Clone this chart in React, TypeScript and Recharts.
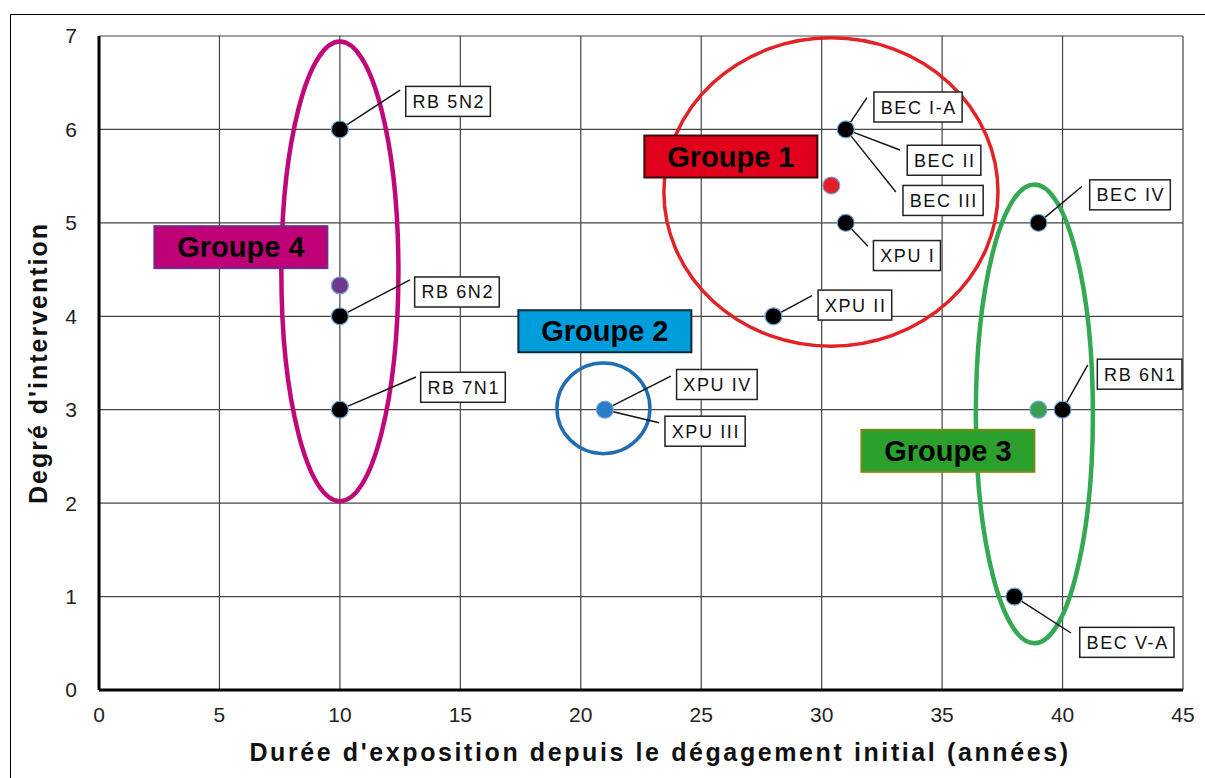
import { ScatterChart, Scatter, XAxis, YAxis, CartesianGrid, ReferenceArea, ReferenceLine, ReferenceDot, Cell } from "recharts";

const xTicks = [0, 5, 10, 15, 20, 25, 30, 35, 40, 45];
const yTicks = [0, 1, 2, 3, 4, 5, 6, 7];

// échantillons (points noirs)
const samples = [
    { x: 10, y: 6 },
    { x: 10, y: 4 },
    { x: 10, y: 3 },
    { x: 31, y: 6 },
    { x: 31, y: 5 },
    { x: 28, y: 4 },
    { x: 39, y: 5 },
    { x: 40, y: 3 },
    { x: 38, y: 1 },
];

// centres des groupes
const centroids = [
    { group: "Groupe 4", x: 10, y: 4.33 },
    { group: "Groupe 2", x: 21, y: 3 },
    { group: "Groupe 1", x: 30.4, y: 5.4 },
    { group: "Groupe 3", x: 39, y: 3 },
];

// étiquettes des échantillons : point -> coin de l'étiquette -> centre de l'étiquette
const sampleLabels = [
    { text: "RB 5N2", px: 10, py: 6, ax: 12.5, ay: 6.42, lx: 14.49, ly: 6.3 },
    { text: "RB 6N2", px: 10, py: 4, ax: 12.91, ay: 4.39, lx: 14.86, ly: 4.26 },
    { text: "RB 7N1", px: 10, py: 3, ax: 13.16, ay: 3.35, lx: 15.11, ly: 3.24 },
    { text: "BEC I-A", px: 31, py: 6, ax: 31.88, ay: 6.34, lx: 34.0, ly: 6.24 },
    { text: "BEC II", px: 31, py: 6, ax: 33.25, ay: 5.78, lx: 35.08, ly: 5.67 },
    { text: "BEC III", px: 31, py: 6, ax: 33.08, ay: 5.33, lx: 35.04, ly: 5.24 },
    { text: "XPU I", px: 31, py: 5, ax: 31.92, ay: 4.75, lx: 33.54, ly: 4.65 },
    { text: "XPU II", px: 28, py: 4, ax: 29.6, ay: 4.22, lx: 31.38, ly: 4.12 },
    { text: "XPU IV", px: 21, py: 3, ax: 23.74, ay: 3.36, lx: 25.65, ly: 3.27 },
    { text: "XPU III", px: 21, py: 3, ax: 23.25, ay: 2.86, lx: 25.16, ly: 2.77 },
    { text: "BEC IV", px: 39, py: 5, ax: 40.8, ay: 5.39, lx: 42.8, ly: 5.3 },
    { text: "RB 6N1", px: 40, py: 3, ax: 41.05, ay: 3.48, lx: 43.2, ly: 3.38 },
    { text: "BEC V-A", px: 38, py: 1, ax: 40.35, ay: 0.61, lx: 42.67, ly: 0.51 },
];

// contours des groupes (boîte englobante de l'ellipse)
const groupShapes = [
    { group: "Groupe 4", x1: 7.57, x2: 12.43, y1: 2.02, y2: 6.94 },
    { group: "Groupe 1", x1: 23.45, x2: 37.32, y1: 3.68, y2: 6.98 },
    { group: "Groupe 2", x1: 19.01, x2: 22.87, y1: 2.53, y2: 3.5 },
    { group: "Groupe 3", x1: 36.4, x2: 41.26, y1: 0.5, y2: 5.41 },
];

const groupTags = [
    { group: "Groupe 1", x: 26.23, y: 5.71 },
    { group: "Groupe 2", x: 21.0, y: 3.84 },
    { group: "Groupe 3", x: 35.24, y: 2.56 },
    { group: "Groupe 4", x: 5.89, y: 4.74 },
];

const ringColor: Record<string, string> = {
    "Groupe 1": "#e32228",
    "Groupe 2": "#1f6db3",
    "Groupe 3": "#35a853",
    "Groupe 4": "#c0087a",
};
const dotColor: Record<string, string> = {
    "Groupe 1": "#e3202a",
    "Groupe 2": "#2a7cc4",
    "Groupe 3": "#3a9e55",
    "Groupe 4": "#6d3a8e",
};
const tagFill: Record<string, string> = {
    "Groupe 1": "#e0001b",
    "Groupe 2": "#009ddd",
    "Groupe 3": "#2ca02c",
    "Groupe 4": "#bf0077",
};
const tagBorder: Record<string, string> = {
    "Groupe 1": "#3a0a0a",
    "Groupe 2": "#0a2a3a",
    "Groupe 3": "#7a8a1a",
    "Groupe 4": "#6a3090",
};

const FONT = "'Liberation Sans', Arial, sans-serif";
const LABEL_SIZE = 18;
const LABEL_SPACING = 1.6;

let ctx: CanvasRenderingContext2D | null = null;
const measure = (text: string, font: string, spacing: number) => {
    if (!ctx) ctx = document.createElement("canvas").getContext("2d");
    if (!ctx) return text.length * 10;
    ctx.font = font;
    return ctx.measureText(text).width + spacing * text.length;
};

const LabelBox = (props: any) => {
    const { cx, cy, text } = props;
    const w = measure(text, `${LABEL_SIZE}px ${FONT}`, LABEL_SPACING) + 12;
    const h = 30;
    return (
        <g>
            <rect x={cx - w / 2} y={cy - h / 2} width={w} height={h} fill="#fff" stroke="#222" strokeWidth={1.5} />
            <text x={cx + LABEL_SPACING / 2} y={cy + 6.5} textAnchor="middle" fontSize={LABEL_SIZE} fontFamily={FONT}
                letterSpacing={LABEL_SPACING} fill="#111">{text}</text>
        </g>
    );
};

const GroupTag = (props: any) => {
    const { cx, cy, group } = props;
    const w = 173, h = 42;
    return (
        <g>
            <rect x={cx - w / 2} y={cy - h / 2} width={w} height={h} fill={tagFill[group]} stroke={tagBorder[group]} strokeWidth={2} />
            <text x={cx} y={cy + 10} textAnchor="middle" fontSize={29} fontWeight="bold" fontFamily={FONT} fill="#000">{group}</text>
        </g>
    );
};

const Ring = (props: any) => {
    const { x, y, width, height, group } = props;
    return (
        <ellipse cx={x + width / 2} cy={y + height / 2} rx={width / 2} ry={height / 2}
            fill="none" stroke={ringColor[group]} strokeWidth={group === "Groupe 1" || group === "Groupe 2" ? 3.5 : 4.5} />
    );
};

const Dot = (props: any) => (
    <circle cx={props.cx} cy={props.cy} r={8.5} fill={props.fill} stroke="#6fa8dc" strokeWidth={1.2} />
);

export default function App() {
    const tick = { fill: "#222", fontSize: 21, fontFamily: FONT };
    return (
        <div style={{ position: "absolute", left: 0, top: 0, width: 1205, height: 778, overflow: "hidden", background: "#fff" }}>
            <div style={{ position: "absolute", left: 10, top: 14, width: 1220, height: 800, border: "1.5px solid #000" }} />
            <div style={{ position: "absolute", left: 0, top: 0 }}>
                <ScatterChart width={1205} height={778} margin={{ top: 36, right: 22, bottom: 0, left: 0 }}>
                    <CartesianGrid stroke="#444" strokeWidth={1.2} horizontalValues={yTicks} verticalValues={xTicks} />
                    <XAxis type="number" dataKey="x" domain={[0, 45]} ticks={xTicks} height={88} tickLine={false}
                        tickSize={0} tickMargin={17} stroke="#000" strokeWidth={3} tick={tick}
                        label={{ value: "Durée d'exposition depuis le dégagement initial (années)", position: "insideBottom", offset: 17, dx: 19,
                            style: { fontSize: 25, fontWeight: "bold", fontFamily: FONT, fill: "#111", letterSpacing: 2.6 } }} />
                    <YAxis type="number" dataKey="y" domain={[0, 7]} ticks={yTicks} width={99} tickLine={false}
                        tickSize={0} tickMargin={22} stroke="#000" strokeWidth={3} tick={tick}
                        label={{ value: "Degré d'intervention", angle: -90, position: "insideLeft", offset: 38,
                            style: { textAnchor: "middle", fontSize: 25, fontWeight: "bold", fontFamily: FONT, fill: "#111", letterSpacing: 2 } }} />
                    {groupShapes.map((g) => (
                        <ReferenceArea key={g.group} x1={g.x1} x2={g.x2} y1={g.y1} y2={g.y2} ifOverflow="visible"
                            shape={(p: any) => <Ring {...p} group={g.group} />} />
                    ))}
                    {sampleLabels.map((l) => (
                        <ReferenceLine key={"l" + l.text} segment={[{ x: l.px, y: l.py }, { x: l.ax, y: l.ay }]}
                            stroke="#111" strokeWidth={1.4} ifOverflow="visible" />
                    ))}
                    <Scatter data={samples} fill="#000" shape={Dot} isAnimationActive={false} />
                    <Scatter data={centroids} shape={Dot} isAnimationActive={false}>
                        {centroids.map((c) => (
                            <Cell key={c.group} fill={dotColor[c.group]} />
                        ))}
                    </Scatter>
                    {sampleLabels.map((l) => (
                        <ReferenceDot key={"b" + l.text} x={l.lx} y={l.ly} ifOverflow="visible"
                            shape={(p: any) => <LabelBox {...p} text={l.text} />} />
                    ))}
                    {groupTags.map((t) => (
                        <ReferenceDot key={"t" + t.group} x={t.x} y={t.y} ifOverflow="visible"
                            shape={(p: any) => <GroupTag {...p} group={t.group} />} />
                    ))}
                </ScatterChart>
            </div>
        </div>
    );
}
